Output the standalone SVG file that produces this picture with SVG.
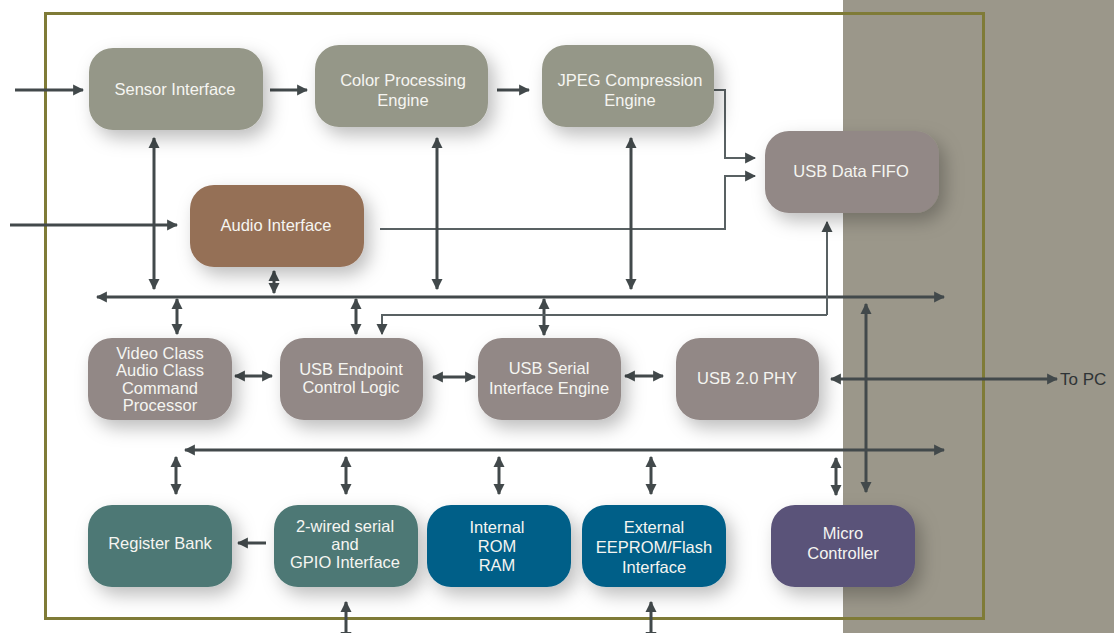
<svg xmlns="http://www.w3.org/2000/svg" width="1114" height="633" viewBox="0 0 1114 633">
<defs>
<style>
.box{filter:url(#sh);}
.t{font-family:"Liberation Sans",Arial,sans-serif;font-size:16.5px;fill:#f5f5f1;text-anchor:middle;}
.w{stroke:#42494b;stroke-width:3;fill:none;}
.n{stroke:#596163;stroke-width:2;fill:none;}
.ah{marker-end:url(#a);}
.ad{marker-start:url(#a);marker-end:url(#a);}
</style>
<filter id="sh" x="-30%" y="-30%" width="170%" height="180%">
<feDropShadow dx="6" dy="8" stdDeviation="9" flood-color="#000" flood-opacity="0.26"/>
</filter>
<marker id="a" viewBox="0 0 10 10" refX="9" refY="5" markerWidth="11" markerHeight="13" markerUnits="userSpaceOnUse" orient="auto-start-reverse">
<path d="M0,0 L10,5 L0,10 z" fill="#42494b"/>
</marker>
</defs>
<rect width="1114" height="633" fill="#ffffff"/>
<rect x="843" y="0" width="271" height="633" fill="#9b978a"/>
<rect x="45.500" y="13.500" width="938" height="605" fill="none" stroke="#7f7b37" stroke-width="3"/>

<g id="connectors">
<line class="w ah" x1="15" y1="90" x2="83" y2="90"/>
<line class="w ah" x1="270" y1="90" x2="307" y2="90"/>
<line class="w ah" x1="497" y1="90" x2="529" y2="90"/>
<line class="w ah" x1="10" y1="225" x2="177" y2="225"/>
<polyline class="n ah" points="714,90 725,90 725,158 755,158"/>
<polyline class="n ah" points="380,229 725,229 725,176 755,176"/>
<line class="w ad" x1="154" y1="138" x2="154" y2="289"/>
<line class="w ad" x1="437" y1="138" x2="437" y2="289"/>
<line class="w ad" x1="631" y1="138" x2="631" y2="289"/>
<line class="w ad" x1="274" y1="271" x2="274" y2="293"/>
<line class="w ad" x1="97" y1="297" x2="944" y2="297"/>
<line class="w ad" x1="177" y1="299" x2="177" y2="334"/>
<line class="w ad" x1="356" y1="299" x2="356" y2="334"/>
<line class="w ad" x1="544" y1="299" x2="544" y2="335"/>
<polyline class="n ah" points="827,315 827,222"/>
<polyline class="n ah" points="827,315 382,315 382,334"/>
<line class="w ad" x1="235" y1="376" x2="272" y2="376"/>
<line class="w ad" x1="433" y1="377" x2="475" y2="377"/>
<line class="w ad" x1="625" y1="376" x2="663" y2="376"/>
<line class="w ad" x1="831" y1="379" x2="1057" y2="379"/>
<line class="w ad" x1="866" y1="304" x2="866" y2="492"/>
<line class="w ad" x1="185" y1="450" x2="944" y2="450"/>
<line class="w ad" x1="176" y1="457" x2="176" y2="494"/>
<line class="w ad" x1="346" y1="457" x2="346" y2="494"/>
<line class="w ad" x1="499" y1="457" x2="499" y2="494"/>
<line class="w ad" x1="651" y1="457" x2="651" y2="494"/>
<line class="w ad" x1="836" y1="458" x2="836" y2="495"/>
<line class="w ah" x1="266" y1="543" x2="238" y2="543"/>
<line class="w ad" x1="346" y1="602" x2="346" y2="642"/>
<line class="w ad" x1="651" y1="602" x2="651" y2="642"/>
</g>
<text x="1060" y="385" font-family="Liberation Sans,Arial,sans-serif" font-size="17" fill="#2f3436">To PC</text>

<g id="sensor"><rect class="box" x="89" y="48" width="174" height="82" rx="24" fill="#959788"/><text class="t" x="175" y="95">Sensor Interface</text></g>
<g id="color"><rect class="box" x="315" y="45" width="173" height="82" rx="24" fill="#959788"/><text class="t" x="403" y="86">Color Processing</text><text class="t" x="403" y="106">Engine</text></g>
<g id="jpeg"><rect class="box" x="542" y="45" width="172" height="82" rx="24" fill="#959788"/><text class="t" x="630" y="86">JPEG Compression</text><text class="t" x="630" y="106">Engine</text></g>
<g id="fifo"><rect class="box" x="765" y="131" width="174" height="82" rx="24" fill="#928886"/><text class="t" x="851" y="177">USB Data FIFO</text></g>
<g id="audio"><rect class="box" x="190" y="185" width="174" height="82" rx="24" fill="#957057"/><text class="t" x="276" y="231">Audio Interface</text></g>
<g id="video"><rect class="box" x="88" y="338" width="144" height="82" rx="24" fill="#928886"/><text class="t" x="160" y="359">Video Class</text><text class="t" x="160" y="376">Audio Class</text><text class="t" x="160" y="394">Command</text><text class="t" x="160" y="411">Processor</text></g>
<g id="endpoint"><rect class="box" x="280" y="338" width="143" height="82" rx="24" fill="#928886"/><text class="t" x="351" y="375">USB Endpoint</text><text class="t" x="351" y="393">Control Logic</text></g>
<g id="serial"><rect class="box" x="478" y="338" width="143" height="82" rx="24" fill="#928886"/><text class="t" x="549" y="374">USB Serial</text><text class="t" x="549" y="394">Interface Engine</text></g>
<g id="phy"><rect class="box" x="676" y="338" width="143" height="82" rx="24" fill="#928886"/><text class="t" x="747" y="384">USB 2.0 PHY</text></g>
<g id="register"><rect class="box" x="88" y="505" width="144" height="82" rx="24" fill="#4d7874"/><text class="t" x="160" y="549">Register Bank</text></g>
<g id="gpio"><rect class="box" x="274" y="505" width="144" height="82" rx="24" fill="#4d7874"/><text class="t" x="345" y="532">2-wired serial</text><text class="t" x="345" y="550">and</text><text class="t" x="345" y="568">GPIO Interface</text></g>
<g id="rom"><rect class="box" x="427" y="505" width="144" height="82" rx="24" fill="#005f88"/><text class="t" x="497" y="533">Internal</text><text class="t" x="497" y="552">ROM</text><text class="t" x="497" y="571">RAM</text></g>
<g id="eeprom"><rect class="box" x="582" y="505" width="144" height="82" rx="24" fill="#005f88"/><text class="t" x="654" y="533">External</text><text class="t" x="654" y="553">EEPROM/Flash</text><text class="t" x="654" y="573">Interface</text></g>
<g id="micro"><rect class="box" x="771" y="505" width="144" height="82" rx="24" fill="#5a5279"/><text class="t" x="843" y="539">Micro</text><text class="t" x="843" y="559">Controller</text></g>
</svg>
